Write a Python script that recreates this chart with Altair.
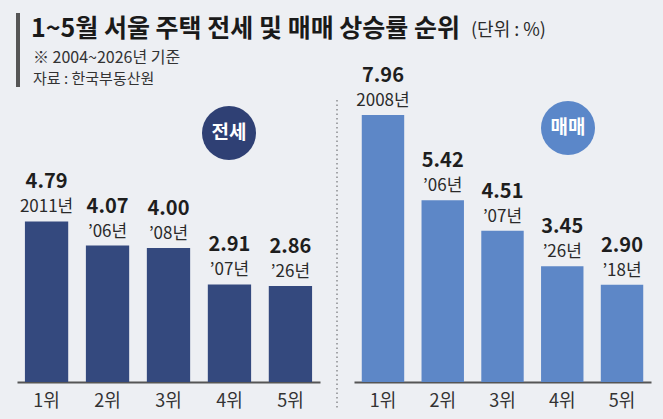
import altair as alt
import pandas as pd

FONT = "Noto Sans CJK KR"

ranks = ["1위", "2위", "3위", "4위", "5위"]
jeonse_values = [4.79, 4.07, 4.00, 2.91, 2.86]
jeonse_years = ["2011년", "’06년", "’08년", "’07년", "’26년"]
maemae_values = [7.96, 5.42, 4.51, 3.45, 2.90]
maemae_years = ["2008년", "’06년", "’07년", "’26년", "’18년"]

title_text = "1~5월 서울 주택 전세 및 매매 상승률 순위"
unit_text = "(단위 : %)"
note_text = "※ 2004~2026년 기준"
source_text = "자료 : 한국부동산원"

NAVY = "#34497e"
BLUE = "#5d87c7"
CIRCLE_NAVY = "#2f4074"
CIRCLE_BLUE = "#5b87c9"


def panel(values, years, bar_color, width, badge, badge_color, bx, by):
    df = pd.DataFrame({"rank": ranks, "value": values, "year": years})
    x = alt.X(
        "rank:N",
        sort=ranks,
        scale=alt.Scale(paddingInner=0.29, paddingOuter=0.13),
        axis=alt.Axis(
            title=None,
            labelAngle=0,
            ticks=False,
            grid=False,
            domainColor="#555555",
            domainWidth=2,
            labelFontSize=18,
            labelColor="#333333",
            labelFont=FONT,
            labelPadding=10,
        ),
    )
    y = alt.Y("value:Q", scale=alt.Scale(domain=[0, 8.5]), axis=None)
    base = alt.Chart(df).encode(x=x, y=y)
    bars = base.mark_bar(color=bar_color)
    vals = base.mark_text(
        dy=-33, baseline="alphabetic", fontSize=20, fontWeight="bold",
        color="#1e1e1e", font=FONT
    ).encode(text=alt.Text("value:Q", format=".2f"))
    yrs = base.mark_text(
        dy=-9, baseline="alphabetic", fontSize=17, color="#2a2a2a", font=FONT
    ).encode(text="year:N")
    bdf = pd.DataFrame({"label": [badge]})
    circ = alt.Chart(bdf).mark_circle(size=2920, color=badge_color, opacity=1).encode(
        x=alt.value(bx), y=alt.value(by)
    )
    ctext = alt.Chart(bdf).mark_text(
        fontSize=19, fontWeight="bold", color="white", font=FONT, baseline="middle"
    ).encode(x=alt.value(bx), y=alt.value(by), text="label:N")
    return alt.layer(bars, vals, yrs, circ, ctext).properties(width=width, height=285)


left = panel(jeonse_values, jeonse_years, NAVY, 303, "전세", CIRCLE_NAVY, 212, 36)
right = panel(maemae_values, maemae_years, BLUE, 297, "매매", CIRCLE_BLUE, 214, 31)

title_mark = alt.Chart(pd.DataFrame({"t": [title_text]})).mark_text(
    align="left", baseline="alphabetic", fontSize=25, fontWeight="bold",
    color="#1a1a1a", font=FONT
).encode(x=alt.value(14), y=alt.value(-60), text="t:N")
unit_mark = alt.Chart(pd.DataFrame({"t": [unit_text]})).mark_text(
    align="left", baseline="alphabetic", fontSize=18, color="#2a2a2a", font=FONT
).encode(x=alt.value(454), y=alt.value(-61), text="t:N")
note_mark = alt.Chart(pd.DataFrame({"t": [note_text]})).mark_text(
    align="left", baseline="alphabetic", fontSize=16, color="#333333", font=FONT
).encode(x=alt.value(16), y=alt.value(-34), text="t:N")
source_mark = alt.Chart(pd.DataFrame({"t": [source_text]})).mark_text(
    align="left", baseline="alphabetic", fontSize=15, color="#333333", font=FONT
).encode(x=alt.value(16), y=alt.value(-13), text="t:N")
side_bar = alt.Chart(pd.DataFrame({"a": [0]})).mark_rect(color="#555555").encode(
    x=alt.value(-1), x2=alt.value(3), y=alt.value(-84), y2=alt.value(-10)
)

left = alt.layer(left, title_mark, unit_mark, note_mark, source_mark, side_bar)

divider = alt.Chart(pd.DataFrame({"a": [0]})).mark_rule(
    color="#8a8c90", strokeWidth=1.5, strokeDash=[1.5, 3]
).encode(x=alt.value(-17), y=alt.value(3), y2=alt.value(313))
right = alt.layer(right, divider)

chart = (
    alt.hconcat(left, right, spacing=34, bounds="flush")
    .properties(
        padding={"left": 16, "top": 13, "right": 12, "bottom": 9},
        autosize=alt.AutoSizeParams(type="pad"),
        background="#edeff3",
    )
    .configure_view(stroke=None)
)

chart.save("out.html", embed_options={"renderer": "svg", "actions": False})
